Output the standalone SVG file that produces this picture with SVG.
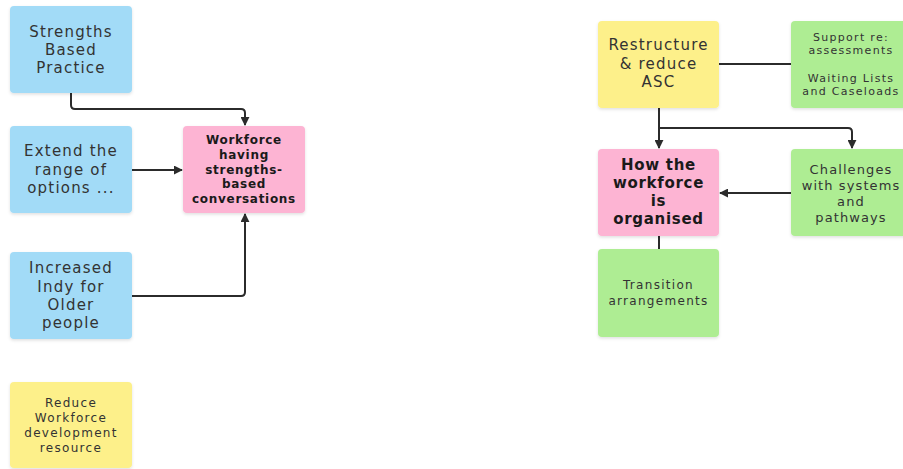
<svg xmlns="http://www.w3.org/2000/svg" width="903" height="469" viewBox="0 0 903 469">
  <defs>
    <filter id="shadow" x="-10%" y="-10%" width="120%" height="130%">
      <feDropShadow dx="0" dy="1.5" stdDeviation="1.5" flood-color="#000" flood-opacity="0.12"/>
    </filter>
    <marker id="arrow" viewBox="0 0 10 10" refX="9" refY="5" markerWidth="9" markerHeight="9" markerUnits="userSpaceOnUse" orient="auto">
      <path d="M0,0 L10,5 L0,10 Z" fill="#2b2b2b"/>
    </marker>
  </defs>
  <style>
    .card { stroke: none; filter: url(#shadow); }
    .blue { fill: #a2dbf7; }
    .pink { fill: #fdb4d3; }
    .yellow { fill: #fdf08a; }
    .green { fill: #aeed93; }
    text { font-family: "DejaVu Sans", "Liberation Sans", sans-serif; fill: #333; text-anchor: middle; }
    .lg { font-size: 15px; letter-spacing: 1.2px; }
    .md { font-size: 13px; letter-spacing: 1.1px; }
    .sm { font-size: 12px; letter-spacing: 1.3px; }
    .xs { font-size: 11px; letter-spacing: 1.3px; }
    .b { font-weight: bold; fill: #1a1a1a; letter-spacing: 0.7px; }
    .conn { fill: none; stroke: #2b2b2b; stroke-width: 2; stroke-linejoin: round; }
  </style>
  <rect width="903" height="469" fill="#ffffff"/>

  <!-- connectors -->
  <g id="connectors">
    <path class="conn" d="M71,93 V105 Q71,109 75,109 H241 Q245,109 245,113 V125" marker-end="url(#arrow)"/>
    <path class="conn" d="M132,170 H182" marker-end="url(#arrow)"/>
    <path class="conn" d="M132,296 H241 Q245,296 245,292 V214" marker-end="url(#arrow)"/>
    <path class="conn" d="M719,64 H791"/>
    <path class="conn" d="M659,108 V148" marker-end="url(#arrow)"/>
    <path class="conn" d="M659,128 H848 Q852,128 852,132 V148" marker-end="url(#arrow)"/>
    <path class="conn" d="M791,193 H720" marker-end="url(#arrow)"/>
    <path class="conn" d="M659,236 V249"/>
  </g>

  <!-- left cluster -->
  <g id="strengths-based-practice">
    <rect class="card blue" x="10" y="6" width="122" height="87" rx="4"/>
    <text class="lg"><tspan x="71" y="37">Strengths</tspan><tspan x="71" y="55">Based</tspan><tspan x="71" y="73">Practice</tspan></text>
  </g>
  <g id="extend-range">
    <rect class="card blue" x="10" y="126" width="122" height="87" rx="4"/>
    <text class="lg"><tspan x="71" y="156">Extend the</tspan><tspan x="71" y="175">range of</tspan><tspan x="71" y="193">options ...</tspan></text>
  </g>
  <g id="workforce-conversations">
    <rect class="card pink" x="183" y="126" width="122" height="87" rx="4"/>
    <text class="sm b"><tspan x="244" y="144">Workforce</tspan><tspan x="244" y="159">having</tspan><tspan x="244" y="174">strengths-</tspan><tspan x="244" y="188">based</tspan><tspan x="244" y="203">conversations</tspan></text>
  </g>
  <g id="increased-indy">
    <rect class="card blue" x="10" y="252" width="122" height="87" rx="4"/>
    <text class="lg"><tspan x="71" y="273">Increased</tspan><tspan x="71" y="292">Indy for</tspan><tspan x="71" y="310">Older</tspan><tspan x="71" y="328">people</tspan></text>
  </g>
  <g id="reduce-workforce">
    <rect class="card yellow" x="10" y="382" width="122" height="86" rx="4"/>
    <text class="sm"><tspan x="71" y="407">Reduce</tspan><tspan x="71" y="422">Workforce</tspan><tspan x="71" y="437">development</tspan><tspan x="71" y="452">resource</tspan></text>
  </g>

  <!-- right cluster -->
  <g id="restructure-asc">
    <rect class="card yellow" x="598" y="21" width="121" height="87" rx="4"/>
    <text class="lg"><tspan x="658.5" y="50">Restructure</tspan><tspan x="658.5" y="69">&amp; reduce</tspan><tspan x="658.5" y="87">ASC</tspan></text>
  </g>
  <g id="support-assessments">
    <rect class="card green" x="791" y="21" width="120" height="87" rx="4"/>
    <text class="xs"><tspan x="851" y="41">Support re:</tspan><tspan x="851" y="54">assessments</tspan><tspan x="851" y="82">Waiting Lists</tspan><tspan x="851" y="95">and Caseloads</tspan></text>
  </g>
  <g id="workforce-organised">
    <rect class="card pink" x="598" y="149" width="121" height="87" rx="4"/>
    <text class="lg b"><tspan x="658.5" y="170">How the</tspan><tspan x="658.5" y="188">workforce</tspan><tspan x="658.5" y="206">is</tspan><tspan x="658.5" y="224">organised</tspan></text>
  </g>
  <g id="challenges-systems">
    <rect class="card green" x="791" y="149" width="120" height="87" rx="4"/>
    <text class="md"><tspan x="851" y="174">Challenges</tspan><tspan x="851" y="190">with systems</tspan><tspan x="851" y="206">and</tspan><tspan x="851" y="222">pathways</tspan></text>
  </g>
  <g id="transition-arrangements">
    <rect class="card green" x="598" y="249" width="121" height="88" rx="4"/>
    <text class="sm"><tspan x="658.5" y="289">Transition</tspan><tspan x="658.5" y="305">arrangements</tspan></text>
  </g>
</svg>
